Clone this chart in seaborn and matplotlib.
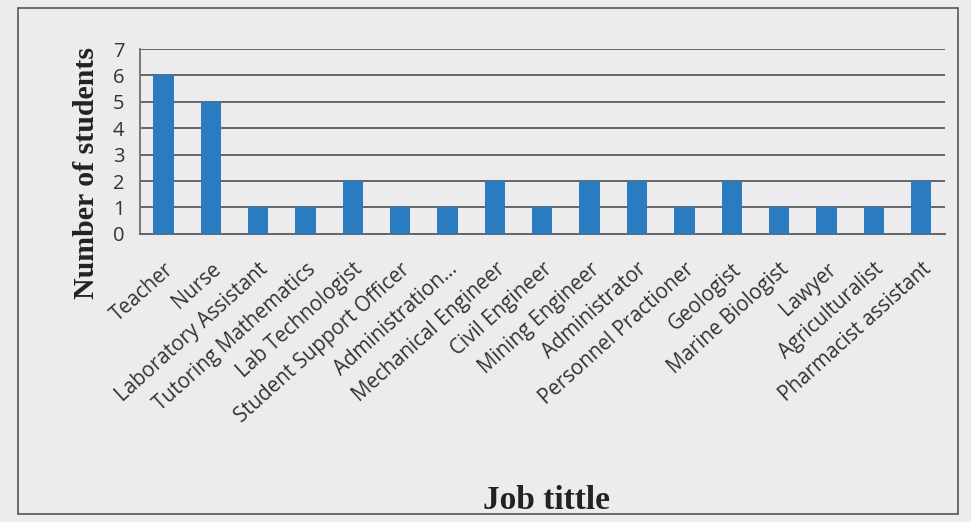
import matplotlib
matplotlib.use("Agg")
import matplotlib.pyplot as plt
import seaborn as sns
import pandas as pd
from matplotlib.patches import Rectangle

jobs = ["Teacher", "Nurse", "Laboratory Assistant", "Tutoring Mathematics",
        "Lab Technologist", "Student Support Officer", "Administration...",
        "Mechanical Engineer", "Civil Engineer", "Mining Engineer",
        "Administrator", "Personnel Practioner", "Geologist",
        "Marine Biologist", "Lawyer", "Agriculturalist", "Pharmacist assistant"]
students = [6, 5, 1, 1, 2, 1, 1, 2, 1, 2, 2, 1, 2, 1, 1, 1, 2]
yticks = [0, 1, 2, 3, 4, 5, 6, 7]

df = pd.DataFrame({"job": jobs, "n": students})

sns.set_theme(style="white")
bg = "#ECECEE"
fig = plt.figure(figsize=(9.71, 5.22), dpi=100, facecolor=bg)
ax = fig.add_axes([0.144, 0.552, 0.829, 0.354])
ax.set_facecolor(bg)

sns.barplot(data=df, x="job", y="n", color="#2B7BC0", width=0.43,
            saturation=1, linewidth=0, ax=ax, zorder=3)

ax.set_ylim(0, 7)
ax.set_yticks(yticks)
ax.set_yticklabels([str(v) for v in yticks], fontsize=14.5,
                   family=["Open Sans", "DejaVu Sans"], color="#333333")
ax.yaxis.grid(True, color="#666666", linewidth=1.4, zorder=0)
ax.tick_params(axis="y", length=7, color="#666666", width=1.4, pad=4)
ax.tick_params(axis="x", length=0, pad=18)
for s in ["top", "right"]:
    ax.spines[s].set_visible(False)
ax.spines["left"].set_color("#777777")
ax.spines["left"].set_linewidth(1.4)
ax.spines["bottom"].set_color("#666666")
ax.spines["bottom"].set_linewidth(1.4)

ax.set_xticks(range(len(jobs)))
ax.set_xticklabels(jobs, rotation=42, ha="right", rotation_mode="anchor",
                   fontsize=14.8, family=["Open Sans", "DejaVu Sans"],
                   color="#333333")

ax.set_xlabel("")
ax.set_ylabel("Number of students", fontsize=21.5, fontweight="bold",
              family=["Liberation Serif", "DejaVu Serif"], color="#222222")
ax.yaxis.set_label_coords(-0.05, 0.33)

fig.text(0.563, 0.042, "Job tittle", fontsize=24, fontweight="bold",
         family=["Liberation Serif", "DejaVu Serif"], color="#222222",
         ha="center", va="center")

fig.patches.append(Rectangle((0.019, 0.015), 0.968, 0.97, transform=fig.transFigure,
                             fill=False, edgecolor="#555555", linewidth=1.2))

fig.savefig("out.png", dpi=100, facecolor=bg)
